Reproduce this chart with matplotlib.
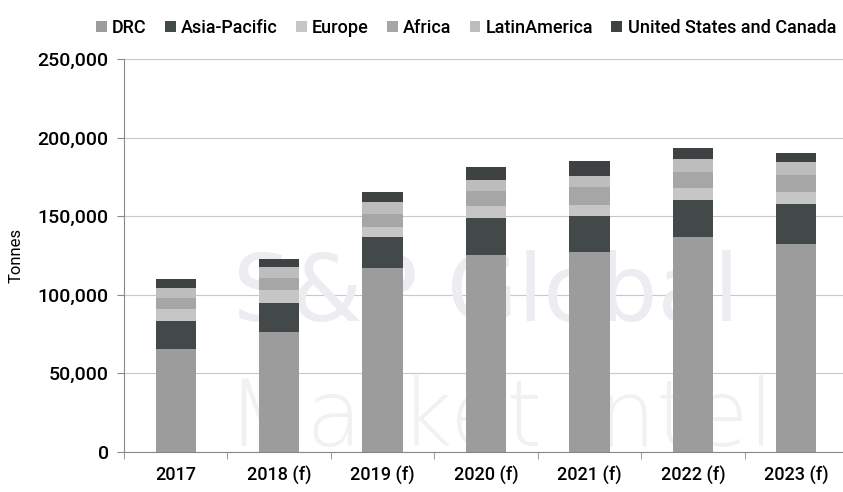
import matplotlib
matplotlib.use("Agg")
import matplotlib.pyplot as plt
import numpy as np
from matplotlib.ticker import FuncFormatter

years = ["2017", "2018 (f)", "2019 (f)", "2020 (f)", "2021 (f)", "2022 (f)", "2023 (f)"]
drc = [65200, 76400, 116800, 125300, 127400, 136500, 132300]
asia_pacific = [18000, 18500, 20100, 23400, 22900, 23800, 25200]
europe = [7500, 8100, 6400, 7400, 6800, 7400, 7600]
africa = [7000, 7500, 8100, 9600, 11700, 10600, 10800]
latin_america = [6400, 7400, 7800, 7400, 6800, 8000, 8300]
us_canada = [5900, 4700, 6400, 8100, 9600, 7000, 6100]

series = [
    ("DRC", drc, "#9c9c9c"),
    ("Asia-Pacific", asia_pacific, "#434848"),
    ("Europe", europe, "#c6c6c6"),
    ("Africa", africa, "#a6a6a6"),
    ("LatinAmerica", latin_america, "#bdbdbd"),
    ("United States and Canada", us_canada, "#3e4242"),
]

plt.rcParams['font.family'] = ['Roboto', 'DejaVu Sans']
plt.rcParams['font.weight'] = 'medium'

fig = plt.figure(figsize=(8.43, 4.92), dpi=100)
ax = fig.add_axes([124/843, (492-451.7)/492, 724/843, (451.7-59)/492])

x = np.arange(len(years))
bottom = np.zeros(len(years))
handles = []
for name, vals, col in series:
    b = ax.bar(x, vals, width=0.39, bottom=bottom, color=col, label=name, zorder=2)
    bottom += np.array(vals)
    handles.append(b)

# faint watermark
ax.text(0.5, 0.40, "S&P Global", transform=ax.transAxes, ha="center", va="center",
        fontsize=66, color="#ececf1", zorder=1, family="DejaVu Sans")
ax.text(0.52, 0.08, "Market Intel", transform=ax.transAxes, ha="center", va="center",
        fontsize=66, color="#f1f1f4", zorder=1, family="DejaVu Sans", fontweight="light")

ax.set_xlim(-0.5, len(years) - 0.5)
ax.set_ylim(0, 250000)
ax.set_yticks(np.arange(0, 250001, 50000))
ax.yaxis.set_major_formatter(FuncFormatter(lambda v, p: f"{int(v):,}"))
ax.grid(axis="y", color="#c8c8c8", linewidth=0.8, zorder=0)
ax.set_axisbelow(True)

ax.set_xticks(x)
ax.set_xticklabels(years, fontsize=13)
ax.set_xticks(np.arange(-0.5, len(years), 1), minor=True)
ax.tick_params(axis="x", which="major", length=0, pad=10)
ax.tick_params(axis="x", which="minor", length=5, color="#888888", direction="out")
ax.tick_params(axis="y", length=5, color="#888888", labelsize=14, pad=6)

for s in ["top", "right"]:
    ax.spines[s].set_visible(False)
ax.spines["left"].set_color("#888888")
ax.spines["bottom"].set_color("#888888")

ax.set_ylabel("Tonnes", fontsize=12, labelpad=10)

fig.legend(handles=handles, labels=[s[0] for s in series], loc="center",
           bbox_to_anchor=(466/843, 1 - 28/492), ncol=6, frameon=False,
           fontsize=13, handlelength=0.6, handleheight=0.6, handletextpad=0.3,
           columnspacing=1.0)

fig.savefig("out.png", dpi=100)
